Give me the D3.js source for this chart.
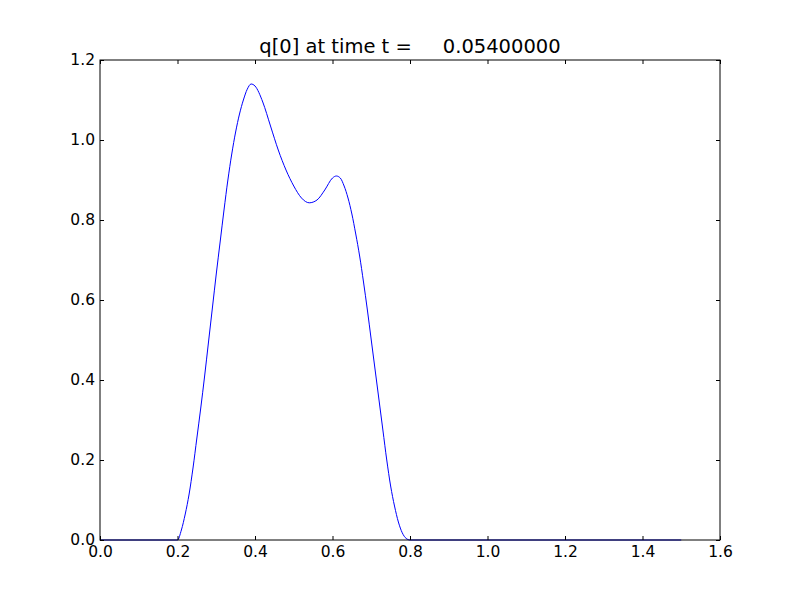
<!DOCTYPE html>
<html><head><meta charset="utf-8">
<script src="https://cdn.jsdelivr.net/npm/d3@7"></script>
<style>body{margin:0;background:#fff}text{font-family:"DejaVu Sans",sans-serif}</style>
</head><body><svg id="c" width="800" height="600"></svg>
<script>
const xVals = [0.0, 0.20, 0.21, 0.22, 0.23, 0.24, 0.25, 0.26, 0.27, 0.28, 0.29, 0.30, 0.31, 0.32, 0.33, 0.34, 0.35, 0.36, 0.37, 0.38, 0.39, 0.40, 0.42, 0.44, 0.46, 0.48, 0.50, 0.52, 0.54, 0.56, 0.58, 0.60, 0.61, 0.62, 0.63, 0.64, 0.65, 0.66, 0.67, 0.68, 0.69, 0.70, 0.71, 0.72, 0.73, 0.74, 0.75, 0.76, 0.77, 0.78, 0.79, 0.80, 1.50];
const qVals = [0.0, 0.0, 0.025, 0.065, 0.115, 0.18, 0.255, 0.33, 0.41, 0.495, 0.58, 0.665, 0.745, 0.825, 0.90, 0.965, 1.02, 1.065, 1.10, 1.127, 1.14, 1.135, 1.095, 1.035, 0.975, 0.925, 0.885, 0.855, 0.843, 0.85, 0.875, 0.905, 0.91, 0.905, 0.885, 0.855, 0.815, 0.765, 0.71, 0.645, 0.575, 0.50, 0.425, 0.35, 0.275, 0.20, 0.135, 0.085, 0.045, 0.018, 0.004, 0.0, 0.0];
const xTicks = [0.0, 0.2, 0.4, 0.6, 0.8, 1.0, 1.2, 1.4, 1.6];
const yTicks = [0.0, 0.2, 0.4, 0.6, 0.8, 1.0, 1.2];
const titleText = "q[0] at time t =     0.05400000";

const svg = d3.select("#c");
const L = 100, R = 720, T = 60, B = 540;
const x = d3.scaleLinear().domain([0, 1.6]).range([L, R]);
const y = d3.scaleLinear().domain([0, 1.2]).range([B, T]);

const data = xVals.map((v, i) => [v, qVals[i]]);
svg.append("path").datum(data)
  .attr("fill", "none").attr("stroke", "#0000ff").attr("stroke-width", 1)
  .attr("d", d3.line().x(d => x(d[0])).y(d => y(d[1])).curve(d3.curveMonotoneX));

const fmt = d3.format(".1f");
function styleAxis(g){
  g.select(".domain").remove();
  g.selectAll("text").attr("font-size", 15.5).attr("fill", "#000").attr("font-family", "DejaVu Sans");
  g.selectAll("line").attr("stroke", "#000");
}
svg.append("g").attr("transform", `translate(0,${B})`)
  .call(d3.axisBottom(x).tickValues(xTicks).tickFormat(fmt).tickSizeInner(-4).tickSizeOuter(0).tickPadding(6))
  .call(styleAxis);
svg.append("g").attr("transform", `translate(0,${T})`)
  .call(d3.axisTop(x).tickValues(xTicks).tickFormat("").tickSizeInner(-4).tickSizeOuter(0))
  .call(styleAxis);
svg.append("g").attr("transform", `translate(${L},0)`)
  .call(d3.axisLeft(y).tickValues(yTicks).tickFormat(fmt).tickSizeInner(-4).tickSizeOuter(0).tickPadding(5))
  .call(styleAxis);
svg.append("g").attr("transform", `translate(${R},0)`)
  .call(d3.axisRight(y).tickValues(yTicks).tickFormat("").tickSizeInner(-4).tickSizeOuter(0))
  .call(styleAxis);

svg.append("rect").attr("x", L).attr("y", T).attr("width", R - L).attr("height", B - T)
  .attr("fill", "none").attr("stroke", "#000").attr("stroke-width", 1);

svg.append("text").attr("x", (L + R) / 2).attr("y", 53).attr("text-anchor", "middle")
  .attr("font-size", 19.5).attr("xml:space", "preserve").style("white-space", "pre").text(titleText);
</script></body></html>
